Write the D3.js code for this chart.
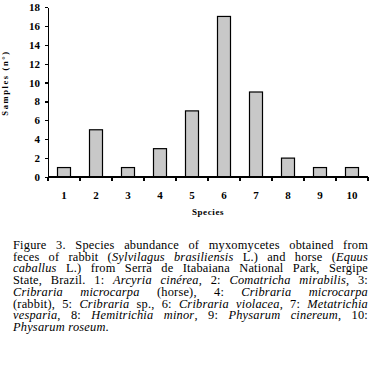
<!DOCTYPE html>
<html>
<head>
<meta charset="utf-8" />
<style>
    body { margin: 0; background: #fff; }
    svg { display: block; }
    .axis path, .axis line { stroke: #000; stroke-width: 1.2; shape-rendering: crispEdges; }
    .axis text { font-family: "Liberation Serif", "Times New Roman", serif; font-weight: bold; font-size: 11px; fill: #000; }
    .caption { font-family: "Liberation Serif", "Times New Roman", serif; font-size: 12.4px; letter-spacing: 0.2px; fill: #000; }
</style>
<script src="https://d3js.org/d3.v7.min.js"></script>
</head>
<body>
<script>

// data
let species = ["1", "2", "3", "4", "5", "6", "7", "8", "9", "10"];
let samples = [1, 5, 1, 3, 7, 17, 9, 2, 1, 1];
let yTicks = [0, 2, 4, 6, 8, 10, 12, 14, 16, 18];

// caption, one entry per printed line; segments flagged italic
let captionLines = [
    [["Figure 3. Species abundance of myxomycetes obtained from", 0]],
    [["feces of rabbit (", 0], ["Sylvilagus brasiliensis", 1], [" L.) and horse (", 0], ["Equus", 1]],
    [["caballus", 1], [" L.) from Serra de Itabaiana National Park, Sergipe", 0]],
    [["State, Brazil. 1: ", 0], ["Arcyria cinérea", 1], [", 2: ", 0], ["Comatricha mirabilis", 1], [", 3:", 0]],
    [["Cribraria microcarpa", 1], [" (horse), 4: ", 0], ["Cribraria microcarpa", 1]],
    [["(rabbit), 5: ", 0], ["Cribraria", 1], [" sp., 6: ", 0], ["Cribraria violacea", 1], [", 7: ", 0], ["Metatrichia", 1]],
    [["vesparia", 1], [", 8: ", 0], ["Hemitrichia minor", 1], [", 9: ", 0], ["Physarum cinereum", 1], [", 10:", 0]],
    [["Physarum roseum", 1], [".", 0]]
];

let W = 374, H = 365;
let margin = { top: 7, left: 48 };
let w = 320, h = 170;

let svg = d3.select("body").append("svg")
    .attr("width", W)
    .attr("height", H);

let g = svg.append("g")
    .attr("transform", "translate(" + margin.left + "," + margin.top + ")");

let x = d3.scaleBand()
    .domain(species)
    .range([0, w]);

let y = d3.scaleLinear()
    .domain([0, 18])
    .range([h, 0]);

let barW = 13;

// bars
g.selectAll("rect")
    .data(samples)
    .enter()
    .append("rect")
    .attr("x", (d, i) => x(species[i]) + x.bandwidth() / 2 - barW / 2)
    .attr("width", barW)
    .attr("y", d => y(d))
    .attr("height", d => h - y(d))
    .attr("fill", "#c8c8c8")
    .attr("stroke", "#000")
    .attr("stroke-width", 1.2);

// y axis
let yAxis = d3.axisLeft(y)
    .tickValues(yTicks)
    .tickSize(3)
    .tickSizeOuter(0)
    .tickPadding(5);

g.append("g")
    .attr("class", "axis")
    .call(yAxis);

// x axis: ticks sit between categories, labels centred under the bars
let xAxisG = g.append("g")
    .attr("class", "axis")
    .attr("transform", "translate(0," + h + ")");

xAxisG.append("line")
    .attr("x1", 0).attr("x2", w)
    .attr("y1", 0).attr("y2", 0);

xAxisG.selectAll("line.tick")
    .data(species.concat(["end"]))
    .enter()
    .append("line")
    .attr("class", "tick")
    .attr("x1", d => d == "end" ? w : x(d))
    .attr("x2", d => d == "end" ? w : x(d))
    .attr("y1", 0).attr("y2", 4);

xAxisG.selectAll("text")
    .data(species)
    .enter()
    .append("text")
    .attr("x", d => x(d) + x.bandwidth() / 2)
    .attr("y", 22)
    .attr("text-anchor", "middle")
    .text(d => d);

// axis titles
g.append("text")
    .attr("x", w / 2)
    .attr("y", h + 38)
    .attr("text-anchor", "middle")
    .style("font-family", "Liberation Serif, serif")
    .style("font-weight", "bold")
    .style("font-size", "9px")
    .style("letter-spacing", "0.6px")
    .text("Species");

svg.append("text")
    .attr("transform", "translate(8,83) rotate(-90)")
    .attr("text-anchor", "middle")
    .style("font-family", "Liberation Serif, serif")
    .style("font-weight", "bold")
    .style("font-size", "8.5px")
    .style("letter-spacing", "1.6px")
    .text("Samples (n°)");

// caption, each line justified between capX0 and capX1 word by word
let capX0 = 13, capX1 = 368, capY0 = 249, capLH = 11.7;

captionLines.forEach((line, i) => {
    // split the line into words, each word a list of [text, italic] pieces
    let words = [[]];
    line.forEach(seg => {
        seg[0].split(" ").forEach((piece, k) => {
            if (k > 0) words.push([]);
            if (piece.length) words[words.length - 1].push([piece, seg[1]]);
        });
    });
    words = words.filter(wd => wd.length);

    let nodes = words.map(wd => {
        let t = svg.append("text")
            .attr("class", "caption")
            .attr("y", capY0 + i * capLH);
        wd.forEach(p => {
            t.append("tspan")
                .style("font-style", p[1] ? "italic" : "normal")
                .text(p[0]);
        });
        return t;
    });
    let widths = nodes.map(t => t.node().getComputedTextLength());
    let total = d3.sum(widths);
    let last = i == captionLines.length - 1;
    let gap = (last || words.length < 2) ? 3.5 : (capX1 - capX0 - total) / (words.length - 1);
    let cx = capX0;
    nodes.forEach((t, k) => {
        t.attr("x", cx);
        cx += widths[k] + gap;
    });
});

</script>
</body>
</html>
